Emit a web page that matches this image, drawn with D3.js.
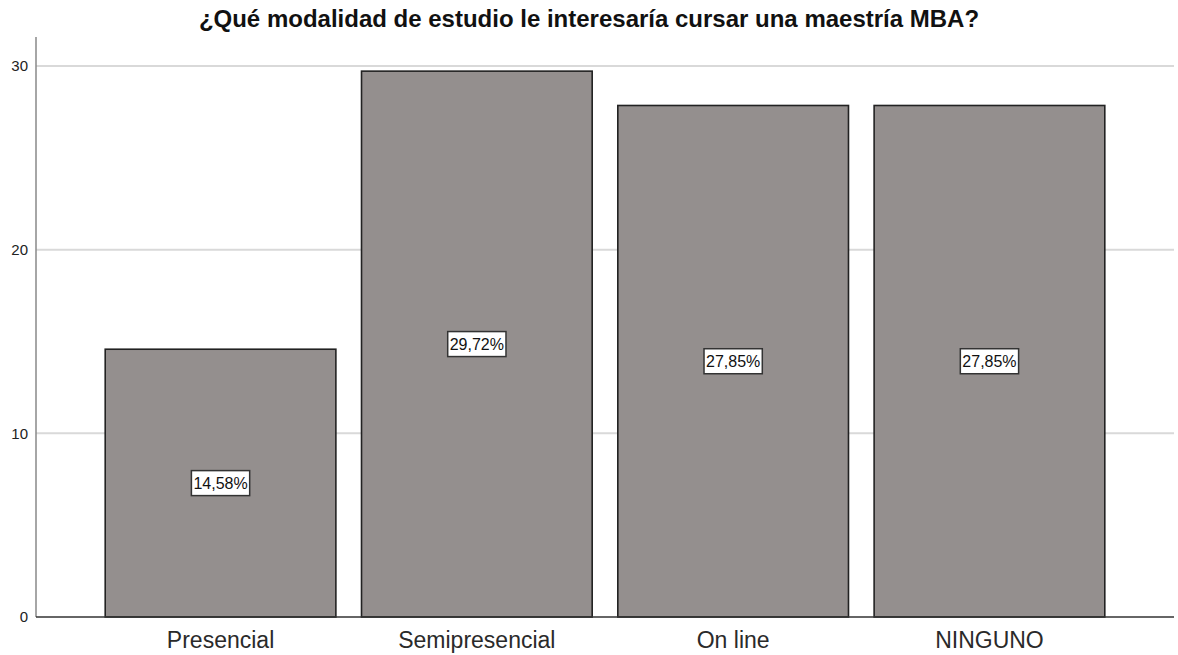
<!DOCTYPE html>
<html>
<head>
<meta charset="utf-8">
<script src="https://cdn.jsdelivr.net/npm/d3@7"></script>
<style>
  html, body { margin: 0; padding: 0; background: #fff; }
  svg { display: block; }
  text { font-family: "Liberation Sans", Arial, sans-serif; }
</style>
</head>
<body>
<div id="chart"></div>
<script>
const title = "¿Qué modalidad de estudio le interesaría cursar una maestría MBA?";
const categories = ["Presencial", "Semipresencial", "On line", "NINGUNO"];
const values = [14.58, 29.72, 27.85, 27.85];
const labels = ["14,58%", "29,72%", "27,85%", "27,85%"];
const yTicks = [0, 10, 20, 30];

const W = 1178, H = 655;
const svg = d3.select("#chart").append("svg").attr("width", W).attr("height", H);

const x0 = 36, x1 = 1174, yBase = 617, yTop = 37;
const y = d3.scaleLinear().domain([0, 30]).range([yBase, 66]);
const x = d3.scaleBand().domain(categories).range([x0, x1]).paddingInner(0.1).paddingOuter(0.27);

// gridlines
svg.append("g").selectAll("line").data(yTicks.filter(d => d > 0)).join("line")
  .attr("x1", x0).attr("x2", x1)
  .attr("y1", d => y(d)).attr("y2", d => y(d))
  .attr("stroke", "#d9d9d9").attr("stroke-width", 2);

// bars
svg.append("g").selectAll("rect").data(values).join("rect")
  .attr("x", (d, i) => x(categories[i]))
  .attr("width", x.bandwidth())
  .attr("y", d => y(d))
  .attr("height", d => yBase - y(d))
  .attr("fill", "#948f8e")
  .attr("stroke", "#222")
  .attr("stroke-width", 1.6);

// y axis
const yAxis = d3.axisLeft(y).tickValues(yTicks).tickSize(0).tickPadding(8);
const gy = svg.append("g").attr("transform", `translate(${x0},0)`).call(yAxis);
gy.select(".domain").remove();
gy.selectAll("text").attr("font-size", 15).attr("fill", "#222")
  .style("font-family", "'Liberation Sans', Arial, sans-serif");
svg.append("line").attr("x1", x0).attr("x2", x0).attr("y1", yTop).attr("y2", yBase)
  .attr("stroke", "#888").attr("stroke-width", 1.5);

// x axis
const xAxis = d3.axisBottom(x).tickSize(0).tickPadding(15);
const gx = svg.append("g").attr("transform", `translate(0,${yBase})`).call(xAxis);
gx.select(".domain").remove();
gx.selectAll("text").attr("font-size", 23).attr("fill", "#2a2a2a")
  .style("font-family", "'Liberation Sans', Arial, sans-serif");
svg.append("line").attr("x1", x0).attr("x2", x1).attr("y1", yBase).attr("y2", yBase)
  .attr("stroke", "#333").attr("stroke-width", 1.5);

// value labels
const lg = svg.append("g").selectAll("g").data(values).join("g")
  .attr("transform", (d, i) => `translate(${x(categories[i]) + x.bandwidth() / 2},${(y(d) + yBase) / 2})`);
lg.append("text").text((d, i) => labels[i])
  .attr("text-anchor", "middle").attr("dy", "0.36em")
  .attr("font-size", 16).attr("fill", "#111");
lg.each(function() {
  const g = d3.select(this);
  const bb = g.select("text").node().getBBox();
  g.insert("rect", "text")
    .attr("x", bb.x - 2).attr("y", -12.5)
    .attr("width", bb.width + 4).attr("height", 25)
    .attr("fill", "#fff").attr("stroke", "#333").attr("stroke-width", 1.5);
});

// title
svg.append("text").attr("x", W / 2).attr("y", 27).attr("text-anchor", "middle")
  .attr("font-size", 24).attr("font-weight", "bold").attr("fill", "#111").text(title);
</script>
</body>
</html>
